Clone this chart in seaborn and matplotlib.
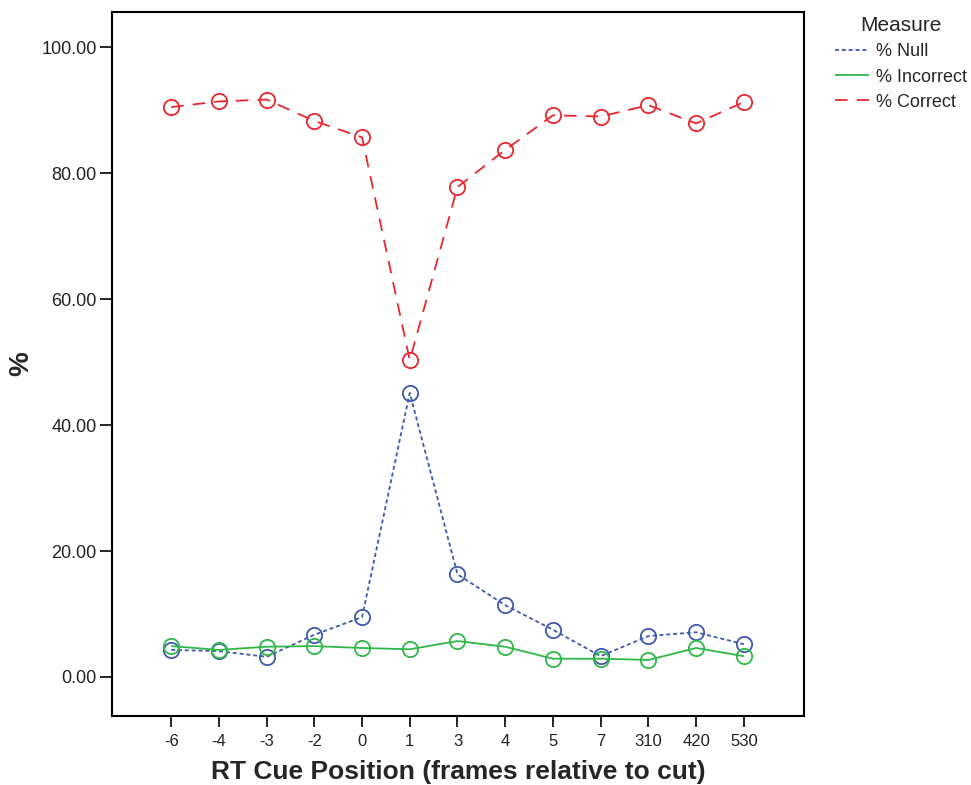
import matplotlib
matplotlib.use("Agg")
import matplotlib.pyplot as plt
from matplotlib.lines import Line2D
from matplotlib.ticker import FormatStrFormatter
import pandas as pd
import seaborn as sns

# RT cue positions (frames relative to cut), shown as ordered categories
positions = ["-6", "-4", "-3", "-2", "0", "1", "3", "4", "5", "7", "310", "420", "530"]

# Percent of trials per measure at each cue position
pct_null = [4.3, 4.1, 3.2, 6.7, 9.5, 45.1, 16.3, 11.4, 7.5, 3.3, 6.5, 7.1, 5.2]
pct_incorrect = [4.9, 4.3, 4.8, 4.9, 4.6, 4.4, 5.7, 4.8, 2.9, 2.9, 2.7, 4.6, 3.3]
pct_correct = [90.5, 91.4, 91.7, 88.3, 85.7, 50.3, 77.8, 83.7, 89.2, 89.0, 90.8, 87.9, 91.3]

measures = ["% Null", "% Incorrect", "% Correct"]
colors = {"% Null": "#3E58AC", "% Incorrect": "#2EB848", "% Correct": "#E8262D"}
dashes = {"% Null": (2.2, 1.6), "% Incorrect": (1, 0), "% Correct": (7, 5)}

rows = []
for name, vals in zip(measures, [pct_null, pct_incorrect, pct_correct]):
    for p, v in zip(positions, vals):
        rows.append({"pos": p, "value": v, "Measure": name})
df = pd.DataFrame(rows)

sns.set_theme(style="white")
plt.rcParams["font.family"] = ["Liberation Sans", "DejaVu Sans"]

fig = plt.figure(figsize=(9.71, 7.85), dpi=100)
ax = fig.add_axes([0.1153, 0.0879, 0.828 - 0.1153, 0.9847 - 0.0879])

sns.lineplot(
    data=df, x="pos", y="value", hue="Measure", style="Measure",
    hue_order=measures, style_order=measures,
    palette=colors, dashes=dashes, markers={m: "o" for m in measures},
    sort=False, ax=ax, legend=False, linewidth=1.3,
)

# hollow circle markers in the line colour
for line in ax.lines:
    c = line.get_color()
    line.set_markerfacecolor("none")
    line.set_markeredgecolor(c)
    line.set_markeredgewidth(1.3)
    line.set_markersize(11)

ax.set_xlim(-1.24, 13.26)
ax.set_ylim(-6.2, 105.6)
ax.set_yticks([0, 20, 40, 60, 80, 100])
ax.yaxis.set_major_formatter(FormatStrFormatter("%.2f"))

for s in ax.spines.values():
    s.set_visible(True)
    s.set_color("black")
    s.set_linewidth(1.5)

ax.tick_params(axis="both", which="both", direction="out", width=1.2,
               color="black", labelcolor="#222222",
               bottom=True, left=True, top=False, right=False)
ax.tick_params(axis="x", pad=5, length=8, labelsize=12)
ax.tick_params(axis="y", pad=2, length=9, labelsize=13)
ax.grid(False)

ax.set_xlabel("RT Cue Position (frames relative to cut)", fontsize=19,
              fontweight="bold", labelpad=8)
ax.set_ylabel("%", fontsize=20, fontweight="bold", va="center")
ax.yaxis.set_label_coords(-0.131, 0.50)

handles = [Line2D([0], [0], color=colors[m], linewidth=1.3, dashes=dashes[m])
           for m in measures]
leg = fig.legend(handles, measures, title="Measure", loc="upper left",
                 bbox_to_anchor=(0.843, 1.0), frameon=False, fontsize=13,
                 title_fontsize=15, handlelength=1.9, handletextpad=0.4,
                 labelspacing=0.45)
leg._legend_box.align = "center"

fig.savefig("out.png", dpi=100, facecolor="white")
